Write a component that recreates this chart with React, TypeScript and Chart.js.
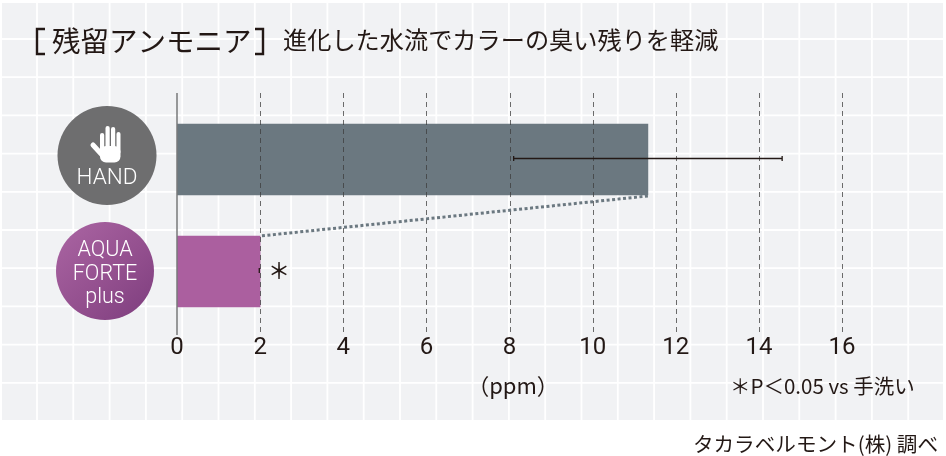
import React, { useEffect, useRef } from 'react';
import { Chart, registerables } from 'chart.js';

Chart.register(...registerables);

const categories = ['HAND', 'AQUA FORTE plus'];
const values = [11.33, 2.0];
const errorLow = [8.1, 1.98];
const errorHigh = [14.56, 1.98];
const xTicks = [0, 2, 4, 6, 8, 10, 12, 14, 16];
const barColors = ['#6b7880', '#ab5f9f'];

const titleText = '残留アンモニア';
const subtitleText = '進化した水流でカラーの臭い残りを軽減';
const unitText = '（ppm）';
const noteText = '＊P＜0.05 vs 手洗い';
const sourceText = 'タカラベルモント(株) 調べ';
const handLabel = 'HAND';
const aquaLines = ['AQUA', 'FORTE', 'plus'];

const JP = '"Noto Sans CJK JP", "Noto Sans", sans-serif';
const LATIN = 'Roboto, "Noto Sans CJK JP", sans-serif';
const INK = '#231815';

function drawBackdrop(ctx: CanvasRenderingContext2D) {
  ctx.fillStyle = '#f1f2f4';
  ctx.fillRect(2, 3, 941, 417);
  ctx.strokeStyle = '#ffffff';
  ctx.lineWidth = 1.8;
  ctx.beginPath();
  for (let x = 37; x < 943; x += 36.3) {
    ctx.moveTo(x, 3);
    ctx.lineTo(x, 420);
  }
  for (let y = 39; y < 420; y += 38.2) {
    ctx.moveTo(2, y);
    ctx.lineTo(943, y);
  }
  ctx.stroke();
}

function drawHandIcon(ctx: CanvasRenderingContext2D) {
  ctx.fillStyle = '#ffffff';
  const fingers = [
    [100, 133, 4.2, 20],
    [105.5, 126, 4.2, 26],
    [111, 127, 4.2, 26],
    [116.5, 132, 4, 22],
  ];
  fingers.forEach(([x, y, w, h]) => {
    ctx.beginPath();
    ctx.roundRect(x, y, w, h, 2.1);
    ctx.fill();
  });
  ctx.beginPath();
  ctx.roundRect(100, 146, 20.5, 16.5, 6);
  ctx.fill();
  // thumb
  ctx.strokeStyle = '#ffffff';
  ctx.lineWidth = 5;
  ctx.lineCap = 'round';
  ctx.beginPath();
  ctx.moveTo(93, 145);
  ctx.lineTo(104, 157);
  ctx.stroke();
  ctx.lineCap = 'butt';
}

const decorPlugin = {
  id: 'decor',
  beforeDraw(chart: Chart) {
    const ctx = chart.ctx;
    ctx.save();
    drawBackdrop(ctx);

    // badges beside the bars
    ctx.fillStyle = '#6e6e6f';
    ctx.beginPath();
    ctx.arc(107, 155.5, 49.5, 0, Math.PI * 2);
    ctx.fill();

    const purple = ctx.createLinearGradient(70, 235, 140, 310);
    purple.addColorStop(0, '#a5609e');
    purple.addColorStop(0.55, '#94508f');
    purple.addColorStop(1, '#834282');
    ctx.fillStyle = purple;
    ctx.beginPath();
    ctx.arc(105, 271, 49, 0, Math.PI * 2);
    ctx.fill();

    drawHandIcon(ctx);

    ctx.fillStyle = '#ffffff';
    ctx.textAlign = 'center';
    ctx.textBaseline = 'middle';
    ctx.font = '300 22.5px ' + LATIN;
    ctx.fillText(handLabel, 107, 178);
    ctx.font = '300 21.5px ' + LATIN;
    ctx.fillText(aquaLines[0], 105, 251);
    ctx.fillText(aquaLines[1], 105, 275);
    ctx.fillText(aquaLines[2], 105, 298);

    // heading
    ctx.fillStyle = INK;
    ctx.textAlign = 'left';
    ctx.font = '400 28.5px ' + JP;
    ctx.fillText(titleText, 52, 41);
    ctx.lineWidth = 2.4;
    ctx.strokeStyle = INK;
    ctx.beginPath();
    ctx.moveTo(45, 29);
    ctx.lineTo(37, 29);
    ctx.lineTo(37, 54);
    ctx.lineTo(45, 54);
    ctx.moveTo(255, 29);
    ctx.lineTo(263, 29);
    ctx.lineTo(263, 54);
    ctx.lineTo(255, 54);
    ctx.stroke();
    ctx.font = '400 24.2px ' + JP;
    ctx.fillText(subtitleText, 283, 40);

    ctx.textAlign = 'center';
    ctx.font = '400 22px ' + JP;
    ctx.fillText(unitText, 513, 386);
    ctx.textAlign = 'left';
    ctx.font = '400 20.5px ' + JP;
    ctx.fillText(noteText, 730, 386);
    ctx.font = '400 20.6px ' + JP;
    ctx.textAlign = 'right';
    ctx.fillText(sourceText, 938, 444);
    ctx.restore();
  },
  afterDatasetsDraw(chart: Chart) {
    const ctx = chart.ctx;
    const x = chart.scales.x;
    const y = chart.scales.y;
    const meta = chart.getDatasetMeta(0);
    ctx.save();

    // dashed value lines, running past the plot area
    ctx.strokeStyle = 'rgba(60, 60, 60, 0.75)';
    ctx.lineWidth = 1;
    ctx.setLineDash([5, 4]);
    xTicks.slice(1).forEach((t) => {
      const px = Math.round(x.getPixelForValue(t)) + 0.5;
      ctx.beginPath();
      ctx.moveTo(px, 93);
      ctx.lineTo(px, 335);
      ctx.stroke();
    });

    // zero line
    ctx.setLineDash([]);
    ctx.strokeStyle = '#77787a';
    ctx.lineWidth = 1.5;
    const zero = x.getPixelForValue(0);
    ctx.beginPath();
    ctx.moveTo(zero, 93);
    ctx.lineTo(zero, 335);
    ctx.stroke();

    // dotted link between the two bar ends
    const top = meta.data[0] as any;
    const bottom = meta.data[1] as any;
    ctx.strokeStyle = barColors[0];
    ctx.lineWidth = 3;
    ctx.setLineDash([3, 2.5]);
    ctx.beginPath();
    ctx.moveTo(top.x, top.y + top.height / 2 + 1);
    ctx.lineTo(bottom.x, bottom.y - bottom.height / 2);
    ctx.stroke();

    // error bars
    ctx.setLineDash([]);
    ctx.strokeStyle = INK;
    ctx.lineWidth = 1.3;
    categories.forEach((c, i) => {
      const cy = y.getPixelForValue(i) - 1;
      const x0 = x.getPixelForValue(errorLow[i]);
      const x1 = x.getPixelForValue(errorHigh[i]);
      ctx.beginPath();
      ctx.moveTo(x0, cy);
      ctx.lineTo(x1, cy);
      ctx.moveTo(x0, cy - 2.5);
      ctx.lineTo(x0, cy + 2.5);
      ctx.moveTo(x1, cy - 2.5);
      ctx.lineTo(x1, cy + 2.5);
      ctx.stroke();
    });

    // significance mark
    ctx.fillStyle = INK;
    ctx.font = '500 22px ' + JP;
    ctx.textAlign = 'center';
    ctx.textBaseline = 'middle';
    ctx.fillText('＊', x.getPixelForValue(values[1]) + 19, y.getPixelForValue(1) - 2);
    ctx.restore();
  },
};

export default function App() {
  const canvasRef = useRef<HTMLCanvasElement>(null);

  useEffect(() => {
    const canvas = canvasRef.current;
    if (!canvas) return;

    const chart = new Chart(canvas, {
      type: 'bar',
      data: {
        labels: categories,
        datasets: [
          {
            data: values,
            backgroundColor: barColors,
            barThickness: 71,
          },
        ],
      },
      options: {
        indexAxis: 'y',
        animation: false,
        responsive: true,
        maintainAspectRatio: false,
        layout: { padding: { left: 177, right: 104, top: 103.5, bottom: 0 } },
        plugins: {
          legend: { display: false },
          tooltip: { enabled: false },
        },
        scales: {
          x: {
            type: 'linear',
            min: 0,
            max: 16,
            grid: { display: false, drawTicks: false },
            border: { display: false },
            afterFit: (scale: any) => {
              scale.height = 128.5;
            },
            ticks: {
              stepSize: 2,
              padding: 6.5,
              color: INK,
              font: { family: LATIN, size: 24, weight: '400' },
            },
          },
          y: {
            display: false,
          },
        },
      } as any,
      plugins: [decorPlugin as any],
    });

    // Cleanup on unmount
    return () => chart.destroy();
  }, []);

  return (
    <div style={{ position: 'absolute', left: 0, top: 0, width: 946, height: 456 }}>
      <canvas ref={canvasRef} />
    </div>
  );
}
